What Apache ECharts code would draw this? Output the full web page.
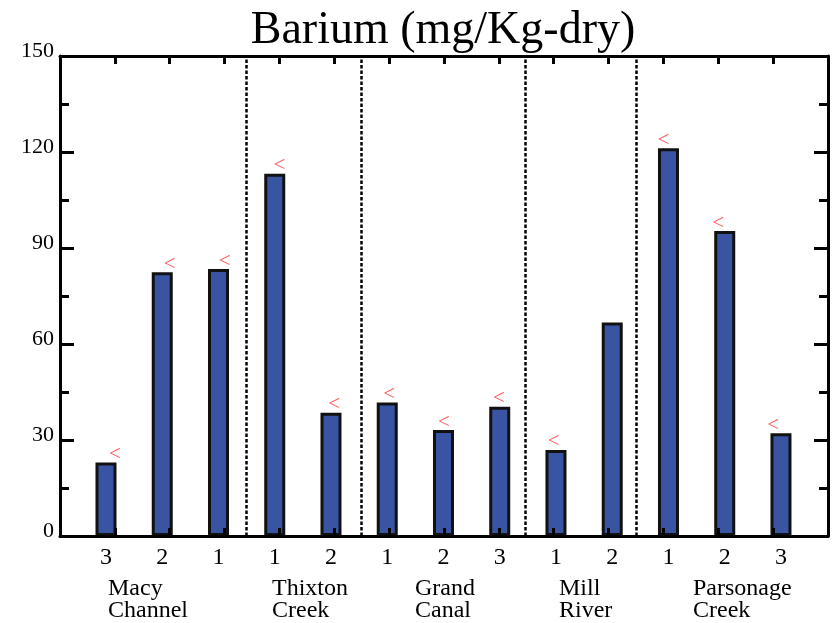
<!DOCTYPE html>
<html>
<head>
<meta charset="utf-8">
<script src="https://cdn.jsdelivr.net/npm/echarts@6/dist/echarts.min.js"></script>
<style>
  html, body { margin: 0; padding: 0; background: #fff; }
  #chart { width: 834px; height: 623px; }
</style>
</head>
<body>
<div id="chart"></div>
<script>
// Barium results per station, grouped by waterbody
const runLabels = ['3', '2', '1', '1', '2', '1', '2', '3', '1', '2', '1', '2', '3'];
const bariumValues = [23.0, 82.4, 83.4, 113.2, 38.5, 41.7, 33.1, 40.4, 26.9, 66.7, 121.2, 95.3, 32.1];
// 1 = reported as "less than" the value
const lessThanFlags = [1, 1, 1, 1, 1, 1, 1, 1, 1, 0, 1, 1, 1];
const groupNames = ['Macy\nChannel', 'Thixton\nCreek', 'Grand\nCanal', 'Mill\nRiver', 'Parsonage\nCreek'];
// group boundaries, in bar-index units
const groupSeparators = [2.49, 4.53, 7.46, 9.42];
const yTickValues = [0, 30, 60, 90, 120, 150];

const SERIF = '"Liberation Serif", "Times New Roman", serif';
const chart = echarts.init(document.getElementById('chart'), null, { renderer: 'canvas' });

const grid = { left: 60, top: 56, width: 768, height: 480 };
const groupLabelLeft = [108, 272, 415, 559, 693];

const barData = bariumValues.map((v, i) => [i, v]);
const lessThanData = bariumValues
  .map((v, i) => [i, v, lessThanFlags[i]])
  .filter(d => d[2] === 1)
  .map(d => [d[0], d[1]]);

const frameLine = { show: true, onZero: false, lineStyle: { color: '#000', width: 3 } };

const option = {
  animation: false,
  backgroundColor: '#fff',
  title: {
    text: 'Barium (mg/Kg-dry)',
    left: 438,
    textAlign: 'center',
    top: 3,
    textStyle: { fontFamily: SERIF, fontSize: 46, fontWeight: 'normal', color: '#000' }
  },
  grid: grid,
  xAxis: [
    {
      // positions the bars
      type: 'value', min: -0.8178, max: 12.836, show: false
    },
    {
      type: 'value', min: -1, max: 13, interval: 1, position: 'bottom', z: 5,
      axisLine: frameLine,
      axisTick: { show: true, inside: true, length: 8, lineStyle: { color: '#000', width: 3 } },
      axisLabel: { show: false }, splitLine: { show: false }
    },
    {
      type: 'value', min: -1, max: 13, interval: 1, position: 'top', z: 5,
      axisLine: frameLine,
      axisTick: { show: true, inside: true, length: 8, lineStyle: { color: '#000', width: 3 } },
      axisLabel: { show: false }, splitLine: { show: false }
    }
  ],
  yAxis: [
    {
      type: 'value', min: 0, max: 150, interval: 30, position: 'left', z: 5,
      axisLine: frameLine,
      axisTick: { show: true, inside: true, length: 14, lineStyle: { color: '#000', width: 3 } },
      minorTick: { show: true, splitNumber: 2, length: 9, lineStyle: { color: '#000', width: 3 } },
      axisLabel: {
        show: true, margin: 6, color: '#000', fontFamily: SERIF, fontSize: 22,
        verticalAlign: 'bottom', lineHeight: 10,
        formatter: v => yTickValues.indexOf(v) >= 0 ? String(v) : ''
      },
      splitLine: { show: false }
    },
    {
      type: 'value', min: 0, max: 150, interval: 30, position: 'right', z: 5,
      axisLine: frameLine,
      axisTick: { show: true, inside: true, length: 14, lineStyle: { color: '#000', width: 3 } },
      minorTick: { show: true, splitNumber: 2, length: 9, lineStyle: { color: '#000', width: 3 } },
      axisLabel: { show: false },
      splitLine: { show: false }
    }
  ],
  series: [
    {
      type: 'bar',
      xAxisIndex: 0,
      yAxisIndex: 0,
      data: barData,
      barWidth: 21,
      itemStyle: { color: '#3A54A4', borderColor: '#111', borderWidth: 3 },
      label: {
        show: true,
        position: 'bottom',
        distance: 10,
        color: '#000',
        fontFamily: SERIF,
        fontSize: 24,
        formatter: p => runLabels[p.dataIndex]
      },
      markLine: {
        silent: true,
        symbol: 'none',
        label: { show: false },
        lineStyle: { color: '#000', width: 2.5, type: [3.5, 2] },
        data: groupSeparators.map(x => ({ xAxis: x }))
      },
      z: 2
    },
    {
      type: 'scatter',
      xAxisIndex: 1,
      yAxisIndex: 0,
      data: lessThanData,
      symbolSize: 1,
      itemStyle: { color: 'rgba(0,0,0,0)' },
      label: {
        show: true,
        position: 'inside',
        offset: [0, -8],
        formatter: '<',
        color: '#ff3030',
        fontFamily: SERIF,
        fontSize: 21
      },
      z: 3
    }
  ],
  graphic: groupNames.map((name, i) => ({
    type: 'text',
    left: groupLabelLeft[i],
    top: 577,
    style: {
      text: name,
      fill: '#000',
      font: '24px ' + SERIF,
      lineHeight: 22
    }
  }))
};

chart.setOption(option);
</script>
</body>
</html>
